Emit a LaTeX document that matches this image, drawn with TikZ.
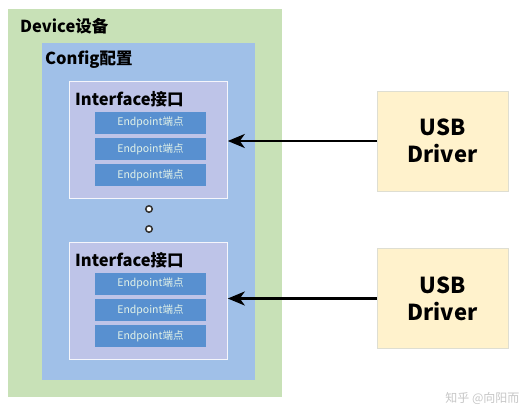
\documentclass[tikz,border=0pt]{standalone}
\usepackage{fontspec}
\setmainfont{Noto Sans CJK SC}
\usetikzlibrary{arrows.meta,positioning}
\definecolor{devgreen}{RGB}{200,225,183}
\definecolor{cfgblue}{RGB}{160,192,232}
\definecolor{iflav}{RGB}{190,196,232}
\definecolor{epblue}{RGB}{88,144,208}
\definecolor{eptext}{RGB}{226,242,232}
\definecolor{usbfill}{RGB}{255,242,204}
\definecolor{usbline}{RGB}{222,222,210}
\tikzset{
  layer/.style={rectangle, anchor=north west, inner sep=0pt},
  ttl/.style={anchor=west, inner sep=0pt, font=\bfseries\fontsize{16.5}{19}\selectfont},
  epbox/.style={rectangle, fill=epblue, minimum width=111pt, minimum height=22pt,
                text=eptext, font=\fontsize{10.5}{12}\selectfont},
  usbbox/.style={rectangle, fill=usbfill, draw=usbline, minimum width=131pt,
                 minimum height=100pt, align=center,
                 font=\bfseries\fontsize{22}{27}\selectfont},
  arr/.style={-{Stealth[length=17pt,width=14pt,inset=5pt]}, line width=2.5pt, black},
  dotc/.style={circle, draw=black!80, fill=white, line width=1.5pt,
               minimum size=6.5pt, inner sep=0pt},
}
\begin{document}
\begin{tikzpicture}[x=1pt, y=-1pt]
  \useasboundingbox (0,0) rectangle (523,407);
  % device and config layers
  \node[layer, fill=devgreen, minimum width=274pt, minimum height=388pt] (dev) at (8,9) {};
  \node[ttl] (devt) at (20,26) {Device设备};
  \node[layer, fill=cfgblue, minimum width=213pt, minimum height=337pt] (cfg) at (42,43) {};
  \node[ttl] (cfgt) at (45,60) {Config配置};
  % interfaces with their endpoints
  \foreach \i/\y in {1/81, 2/242} {
    \node[layer, fill=iflav, draw=white!85!iflav, line width=0.8pt,
          minimum width=158pt, minimum height=117pt] (if\i) at (69,\y) {};
    \node[ttl] (ift\i) at (75,{\y+18}) {Interface接口};
    \foreach \j in {1,2,3}
      \node[epbox] (ep\i\j) at (150.5,{\y+41.5+(\j-1)*26.3}) {Endpoint端点};
  }
  \node[dotc] (dot1) at (149,209) {};
  \node[dotc] (dot2) at (149,229) {};
  % drivers
  \node[usbbox] (usb1) at (442.5,141) {USB\\Driver};
  \node[usbbox] (usb2) at (442.5,298.5) {USB\\Driver};
  \draw[arr] (usb1.west) -- (usb1.west -| if1.east);
  \draw[arr] (usb2.west) -- (usb2.west -| if2.east);
  \node[anchor=east, text=gray!45, font=\fontsize{12}{14}\selectfont] (wm) at (523,398) {知乎 @向阳而};
\end{tikzpicture}
\end{document}
